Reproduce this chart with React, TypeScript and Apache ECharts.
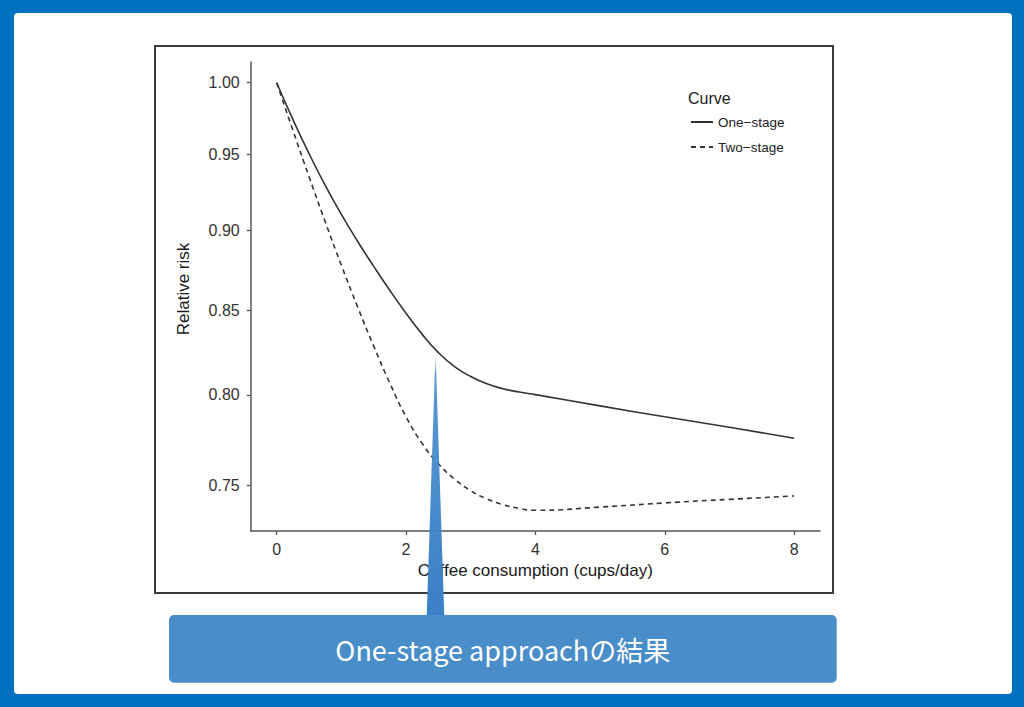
import React, { useEffect, useRef } from "react";
import * as echarts from "echarts";

// ---- data ----
const xValues = [0, 0.25, 0.5, 0.75, 1, 1.25, 1.5, 1.75, 2, 2.25, 2.5, 2.75, 3, 3.25, 3.5, 3.75, 4, 5, 6, 7, 8];
const oneStage = [1.0, 0.9741, 0.9506, 0.9293, 0.9102, 0.8929, 0.877, 0.862, 0.8481, 0.8354, 0.8246, 0.8164, 0.8106, 0.8064, 0.8036, 0.8017, 0.8002, 0.7938, 0.7876, 0.7818, 0.7756];
const twoStage = [1.0, 0.9666, 0.935, 0.9054, 0.8777, 0.8521, 0.8284, 0.8067, 0.7876, 0.7727, 0.7616, 0.7533, 0.7471, 0.7427, 0.7397, 0.7377, 0.7367, 0.7384, 0.7406, 0.7425, 0.7443];
const seriesNames = ["One\u2212stage", "Two\u2212stage"];
const xTicks = [0, 2, 4, 6, 8];
const yTicks = [0.75, 0.8, 0.85, 0.9, 0.95, 1.0];
const xTitle = "Coffee consumption (cups/day)";
const yTitle = "Relative risk";
const legendTitle = "Curve";
const calloutText = "One-stage approachの結果";

const FONT = "'Liberation Sans', Arial, Helvetica, sans-serif";

export default function App() {
  const ref = useRef<HTMLDivElement>(null);

  useEffect(() => {
    if (!ref.current) return;
    const chart = echarts.init(ref.current, undefined, { renderer: "svg" });
    const yLogTicks = yTicks.map((v) => Math.log(v));

    const option: any = {
      animation: false,
      backgroundColor: "#0070C0",
      grid: { left: 250.7, right: 204, top: 62, bottom: 176, containLabel: false },
      legend: {
        orient: "vertical",
        left: 690,
        top: 115,
        padding: 0,
        itemWidth: 22,
        itemHeight: 14,
        itemGap: 11,
        selectedMode: false,
        itemStyle: { opacity: 0, borderWidth: 0 },
        textStyle: { fontSize: 13.5, color: "#222", fontFamily: FONT },
        data: seriesNames,
      },
      xAxis: {
        type: "value",
        min: -0.402,
        max: 8.4,
        name: xTitle,
        nameLocation: "middle",
        nameGap: 31,
        nameTextStyle: { fontSize: 17, color: "#1a1a1a", fontFamily: FONT },
        splitLine: { show: false },
        axisLine: { show: true, onZero: false, lineStyle: { color: "#555", width: 1.5 } },
        axisTick: { show: true, length: 4, customValues: xTicks, lineStyle: { color: "#555", width: 1.3 } },
        axisLabel: { customValues: xTicks, margin: 10, fontSize: 16, color: "#333", fontFamily: FONT },
      },
      yAxis: {
        type: "value",
        min: -0.32035,
        max: 0.01479,
        splitLine: { show: false },
        axisLine: { show: true, onZero: false, lineStyle: { color: "#555", width: 1.5 } },
        axisTick: { show: true, length: 4, customValues: yLogTicks, lineStyle: { color: "#555", width: 1.3 } },
        axisLabel: {
          customValues: yLogTicks,
          margin: 11,
          fontSize: 16,
          color: "#333",
          fontFamily: FONT,
          formatter: (v: number) => Math.exp(v).toFixed(2),
        },
      },
      series: [
        {
          name: seriesNames[0],
          type: "line",
          data: xValues.map((x, i) => [x, Math.log(oneStage[i])]),
          symbol: "none",
          showSymbol: false,
          smooth: true,
          lineStyle: { color: "#333", width: 1.6, type: "solid" },
          itemStyle: { color: "#333" },
          z: 3,
        },
        {
          name: seriesNames[1],
          type: "line",
          data: xValues.map((x, i) => [x, Math.log(twoStage[i])]),
          symbol: "none",
          showSymbol: false,
          smooth: true,
          lineStyle: { color: "#333", width: 1.6, type: [5, 4] },
          itemStyle: { color: "#333" },
          z: 3,
        },
      ],
      graphic: [
        {
          type: "rect",
          z: -10,
          silent: true,
          shape: { x: 14, y: 13, width: 998, height: 681, r: 4 },
          style: { fill: "#ffffff" },
        },
        {
          type: "rect",
          z: -5,
          silent: true,
          shape: { x: 155, y: 46, width: 678, height: 547 },
          style: { fill: "none", stroke: "#3a3a3a", lineWidth: 2 },
        },
        {
          type: "text",
          z: 5,
          x: 688,
          y: 98,
          style: {
            text: legendTitle,
            fontSize: 16,
            fontFamily: FONT,
            fill: "#222",
            align: "left",
            verticalAlign: "middle",
          },
        },
        {
          type: "text",
          z: 5,
          x: 183,
          y: 289,
          rotation: Math.PI / 2,
          style: {
            text: yTitle,
            fontSize: 17,
            fontFamily: FONT,
            fill: "#1a1a1a",
            align: "center",
            verticalAlign: "middle",
          },
        },
        {
          type: "polygon",
          z: 50,
          silent: true,
          shape: { points: [[435.5, 352], [426.7, 616], [444.3, 616]] },
          style: {
            fill: new echarts.graphic.LinearGradient(0, 0, 0, 1, [
              { offset: 0, color: "rgba(120,175,225,0.05)" },
              { offset: 0.08, color: "rgba(70,140,205,0.9)" },
              { offset: 1, color: "rgba(58,128,198,1)" },
            ]),
          },
        },
        {
          type: "rect",
          z: 60,
          silent: true,
          shape: { x: 169, y: 615, width: 667.7, height: 67.7, r: 5 },
          style: { fill: "#498DC9" },
        },
        {
          type: "text",
          z: 61,
          x: 502.8,
          y: 649.5,
          style: {
            text: calloutText,
            fontSize: 27,
            fontFamily: "'Noto Sans CJK JP', 'Noto Sans', sans-serif",
            fill: "#ffffff",
            align: "center",
            verticalAlign: "middle",
          },
        },
      ],
    };

    chart.setOption(option);
    return () => {
      chart.dispose();
    };
  }, []);

  return (
    <div
      ref={ref}
      style={{ position: "absolute", left: 0, top: 0, width: 1024, height: 707 }}
    />
  );
}
